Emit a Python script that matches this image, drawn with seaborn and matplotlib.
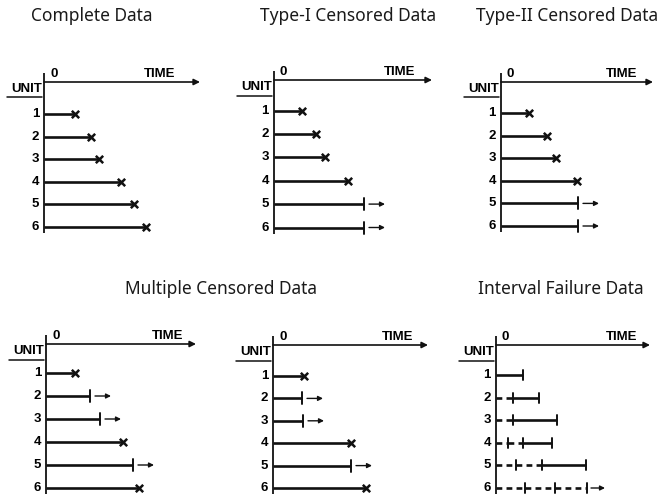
import matplotlib
matplotlib.use("Agg")
import matplotlib.pyplot as plt
import numpy as np
import pandas as pd
import seaborn as sns

sns.set_theme(style="white")
plt.rcParams["font.family"] = ["Noto Sans", "DejaVu Sans"]

# ---- data (time measured from the start of the test) ----
units = [1, 2, 3, 4, 5, 6]

complete_times = [31, 47, 55, 77, 90, 102]
complete_failed = [True, True, True, True, True, True]

type1_times = [28, 42, 51, 74, 90, 90]
type1_failed = [True, True, True, True, False, False]

type2_times = [28, 46, 55, 76, 77, 77]
type2_failed = [True, True, True, True, False, False]

multi_a_times = [29, 44, 54, 77, 87, 93]
multi_a_failed = [True, False, False, True, False, True]

multi_b_times = [31, 29, 30, 78, 78, 93]
multi_b_failed = [True, False, False, True, False, True]

interval_inspections = [[27], [17, 43], [17, 61], [12, 27, 56], [20, 46, 90], [29, 59, 91]]
interval_failed = [True, True, True, True, True, False]

titles_top = ["Complete Data", "Type-I Censored Data", "Type-II Censored Data"]
title_bottom_left = "Multiple Censored Data"
title_bottom_right = "Interval Failure Data"

# ---- figure geometry (pixels) ----
W, H = 661, 494
fig = plt.figure(figsize=(W / 100, H / 100), dpi=100)
fig.patch.set_facecolor("white")

LABEL_FONT = dict(family=["Liberation Sans", "DejaVu Sans"], weight="bold",
                  fontsize=9.5, color="black")
INK = "#111111"


def make_panel(origin_x, axis_y, row1_y, step, top, bottom):
    left, right = origin_x - 46, origin_x + 162
    ax = fig.add_axes([left / W, 1 - bottom / H, (right - left) / W, (bottom - top) / H])
    ax.set_xlim(left - origin_x, right - origin_x)
    ax.set_ylim(1 + (bottom - row1_y) / step, 1 + (top - row1_y) / step)
    ax.set_axis_off()
    axis_u = 1 + (axis_y - row1_y) / step
    return ax, axis_u, step


def draw_frame(ax, axis_u, step, axis_len, time_right, vbottom):
    px = 1.0 / step
    ax.plot([0, 0], [axis_u - 9 * px, vbottom], color=INK, lw=1.3, solid_capstyle="butt")
    ax.annotate("", xy=(axis_len, axis_u), xytext=(0, axis_u),
                arrowprops=dict(arrowstyle="-|>", color=INK, lw=1.2,
                                mutation_scale=9, shrinkA=0, shrinkB=0))
    ax.text(6, axis_u - 8 * px, "0", ha="left", va="center", **LABEL_FONT)
    ax.text(time_right, axis_u - 8 * px, "TIME", ha="right", va="center", **LABEL_FONT)
    ax.text(-2, axis_u + 7 * px, "UNIT", ha="right", va="center", **LABEL_FONT)
    ax.plot([-37, -2], [axis_u + 15.5 * px] * 2, color=INK, lw=1.1)
    for u in units:
        ax.text(-5, u, str(u), ha="right", va="center", **LABEL_FONT)


def censor_mark(ax, t, u, step):
    px = 1.0 / step
    ax.plot([t, t], [u - 6 * px, u + 6 * px], color=INK, lw=1.4)
    ax.annotate("", xy=(t + 21, u), xytext=(t + 5, u),
                arrowprops=dict(arrowstyle="-|>", color=INK, lw=1.0,
                                mutation_scale=7, shrinkA=0, shrinkB=0))


def draw_life(ax, step, times, failed):
    df = pd.DataFrame({"unit": units, "time": times, "failed": failed})
    ax.hlines(df["unit"], 0, df["time"], color=INK, lw=1.9)
    fails = df[df["failed"]]
    sns.scatterplot(data=fails, x="time", y="unit", marker="x", s=28,
                    color=INK, linewidth=1.8, ax=ax, legend=False, zorder=3)
    for _, r in df[~df["failed"]].iterrows():
        censor_mark(ax, r["time"], r["unit"], step)
    ax.set_axis_off()


def draw_interval(ax, step, inspections, failed):
    px = 1.0 / step
    for u, insp, f in zip(units, inspections, failed):
        pts = [0] + list(insp)
        for i in range(len(pts) - 1):
            solid = f and i == len(pts) - 2
            ax.plot([pts[i], pts[i + 1]], [u, u], color=INK, lw=1.9,
                    linestyle="-" if solid else (0, (2.2, 1.6)),
                    solid_capstyle="butt", dash_capstyle="butt")
        for t in insp:
            ax.plot([t, t], [u - 5 * px, u + 5 * px], color=INK, lw=1.4)
        if not f:
            ax.annotate("", xy=(insp[-1] + 18, u), xytext=(insp[-1] + 4, u),
                        arrowprops=dict(arrowstyle="-|>", color=INK, lw=1.0,
                                        mutation_scale=7, shrinkA=0, shrinkB=0))


# ---- top row ----
ax1, a1, s1 = make_panel(44, 82, 114, 22.6, 58, 245)
draw_frame(ax1, a1, s1, 156, 131, 6 + 6 / s1)
draw_life(ax1, s1, complete_times, complete_failed)

ax2, a2, s2 = make_panel(274, 80, 110.5, 23.4, 58, 245)
draw_frame(ax2, a2, s2, 158, 141, 6 + 6 / s2)
draw_life(ax2, s2, type1_times, type1_failed)

ax3, a3, s3 = make_panel(501, 82, 113, 22.6, 58, 245)
draw_frame(ax3, a3, s3, 152, 136, 6 + 6 / s3)
draw_life(ax3, s3, type2_times, type2_failed)

# ---- bottom row ----
ax4, a4, s4 = make_panel(46, 344, 373, 23.0, 318, 494)
draw_frame(ax4, a4, s4, 150, 137, 8)
draw_life(ax4, s4, multi_a_times, multi_a_failed)

ax5, a5, s5 = make_panel(273, 345, 376, 22.4, 318, 494)
draw_frame(ax5, a5, s5, 155, 140, 8)
draw_life(ax5, s5, multi_b_times, multi_b_failed)

ax6, a6, s6 = make_panel(496, 345, 375, 22.6, 318, 494)
draw_frame(ax6, a6, s6, 154, 141, 8)
draw_interval(ax6, s6, interval_inspections, interval_failed)

# ---- titles ----
TITLE = dict(fontsize=12.5, color="#1a1a1a", ha="center", va="center")
for x, t in zip([92, 348, 567], titles_top):
    fig.text(x / W, 1 - 16 / H, t, **TITLE)
fig.text(221 / W, 1 - 289 / H, title_bottom_left, **TITLE)
fig.text(561 / W, 1 - 289 / H, title_bottom_right, **TITLE)

fig.savefig("out.png", dpi=100, facecolor="white")
